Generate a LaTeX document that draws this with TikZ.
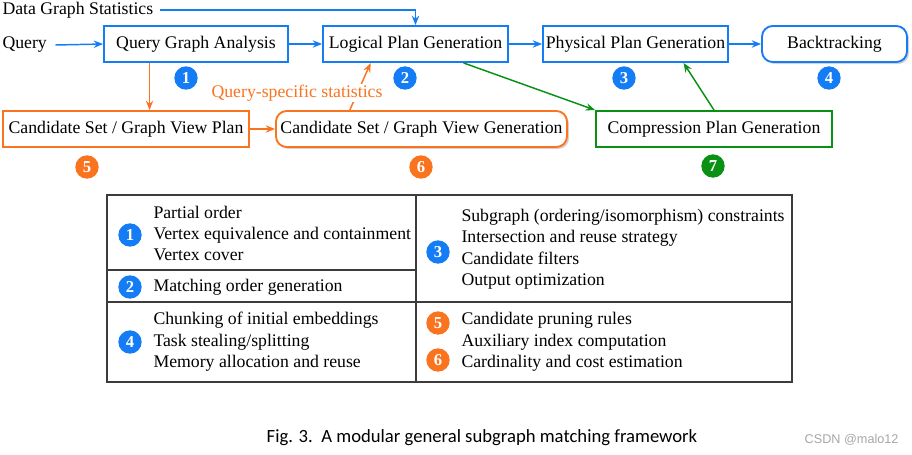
\documentclass[tikz,border=0pt]{standalone}
\usepackage{fontspec}
\setmainfont{Liberation Serif}
\newfontfamily\capfont{Carlito}
\newfontfamily\markfont{Liberation Sans}
\usetikzlibrary{calc,shadows,arrows.meta}

\definecolor{qblue}{RGB}{20,125,245}
\definecolor{qorange}{RGB}{250,115,30}
\definecolor{qgreen}{RGB}{10,145,20}
\definecolor{rulegray}{RGB}{60,60,60}

\tikzset{every picture/.style={line width=0.75pt}}
\tikzset{
  stage/.style={draw=#1, fill=white, line width=1.4pt, minimum height=27pt, inner sep=0pt, font=\fontsize{13.3}{15}\selectfont},
  roundstage/.style={stage=#1, rounded corners=8pt, drop shadow={opacity=0.35, shadow xshift=1.5pt, shadow yshift=-1.5pt}},
  badge/.style={circle, fill=#1, text=white, inner sep=0pt, minimum size=17.5pt, font=\bfseries\fontsize{12.5}{12.5}\selectfont},
  plain/.style={inner sep=0pt, font=\fontsize{13.3}{15}\selectfont},
  items/.style={plain, align=left, font=\fontsize{13.3}{16.1}\selectfont},
  flow/.style={draw=#1, line width=1.1pt, -{Stealth[length=7pt, width=5.5pt]}},
}

\begin{document}
\begin{tikzpicture}[x=0.75pt,y=0.75pt,yscale=-1,xscale=1]
\path[use as bounding box] (0,0) rectangle (912,454);

% Text Node
\node[plain, anchor=west] (dgs) at (2,10) {Data Graph Statistics};
\node[plain, anchor=west] (query) at (2,45) {Query};

%Shape: Rectangle
\node[stage=qblue, minimum width=138pt] (qga) at (196,44) {Query Graph Analysis};
\node[stage=qblue, minimum width=138.75pt] (lpg) at (415.5,44) {Logical Plan Generation};
\node[stage=qblue, minimum width=138.75pt] (ppg) at (635.5,44) {Physical Plan Generation};
\node[roundstage=qblue, minimum width=108.75pt] (bt) at (834.5,44) {Backtracking};
\node[stage=qorange, minimum width=184.5pt] (cvp) at (126,129) {Candidate Set / Graph View Plan};
\node[roundstage=qorange, minimum width=218.25pt] (cvg) at (421.5,129) {Candidate Set / Graph View Generation};
\node[stage=qgreen, minimum width=177pt] (cpg) at (714,129) {Compression Plan Generation};

% Badges
\node[badge=qblue] (b1) at (186,78) {1};
\node[badge=qblue] (b2) at (405,78) {2};
\node[badge=qblue] (b3) at (624,78) {3};
\node[badge=qblue] (b4) at (829,78) {4};
\node[badge=qorange] (b5) at (87,167) {5};
\node[badge=qorange] (b6) at (421,167) {6};
\node[badge=qgreen] (b7) at (713,166) {7};

% connector ends
\coordinate (qgaout) at ($(qga.south west)!0.25!(qga.south east)$);
\coordinate (cvgout) at ($(cvg.north west)!0.255!(cvg.north east)$);
\coordinate (lpgin) at ($(lpg.south west)!0.26!(lpg.south east)$);
\coordinate (lpgout) at ($(lpg.south west)!0.757!(lpg.south east)$);
\coordinate (ppgin) at ($(ppg.south west)!0.757!(ppg.south east)$);

%Straight Lines
\draw[flow=qblue] ([xshift=6pt]query.east) -- (qga.west);
\draw[flow=qblue] ([xshift=5pt]dgs.east) -| (lpg.north);
\draw[flow=qblue] (qga.east) -- (lpg.west);
\draw[flow=qblue] (lpg.east) -- (ppg.west);
\draw[flow=qblue] (ppg.east) -- (bt.west);
\draw[flow=qorange] (qgaout) -- (qgaout |- cvp.north);
\draw[flow=qorange] (cvp.east) -- (cvg.west);
\draw[flow=qorange] (cvgout) -- (lpgin);
\node[plain, fill=white, inner sep=1pt, text=qorange] (qss) at (297,93) {Query-specific statistics};
\draw[flow=qgreen] (lpgout) -- (cpg.north west);
\draw[flow=qgreen] (cpg.north) -- (ppgin);

%Shape: Table
\draw[rulegray, line width=1pt] (107,195) rectangle (792,382);
\draw[rulegray, line width=1pt] (416,195) -- (416,382);
\draw[rulegray, line width=1pt] (107,302) -- (792,302);
\draw[rulegray, line width=1pt] (107,270) -- (416,270);

% Table entries
\node[badge=qblue] (t1) at (130,235) {1};
\node[items, anchor=west] (t1txt) at (153,233.5) {Partial order\\Vertex equivalence and containment\\Vertex cover};
\node[badge=qblue] (t2) at (130,287) {2};
\node[items, anchor=west] (t2txt) at (153,287) {Matching order generation};
\node[badge=qblue] (t3) at (438,252) {3};
\node[items, anchor=west] (t3txt) at (461,249) {Subgraph (ordering/isomorphism) constraints\\Intersection and reuse strategy\\Candidate filters\\Output optimization};
\node[badge=qblue] (t4) at (130,342) {4};
\node[items, anchor=west] (t4txt) at (153,342) {Chunking of initial embeddings\\Task stealing/splitting\\Memory allocation and reuse};
\node[badge=qorange] (t5) at (438,323) {5};
\node[badge=qorange] (t6) at (438,360) {6};
\node[items, anchor=west] (t56txt) at (461,342) {Candidate pruning rules\\Auxiliary index computation\\Cardinality and cost estimation};

% Caption
\node[inner sep=0pt, font=\capfont\fontsize{14}{16}\selectfont] (caption) at (482,438) {Fig. 3.\ \ A modular general subgraph matching framework};
\node[inner sep=0pt, text=gray!70, font=\markfont\fontsize{9.5}{11}\selectfont, anchor=east] (mark) at (899,440) {CSDN @malo12};

\end{tikzpicture}
\end{document}
